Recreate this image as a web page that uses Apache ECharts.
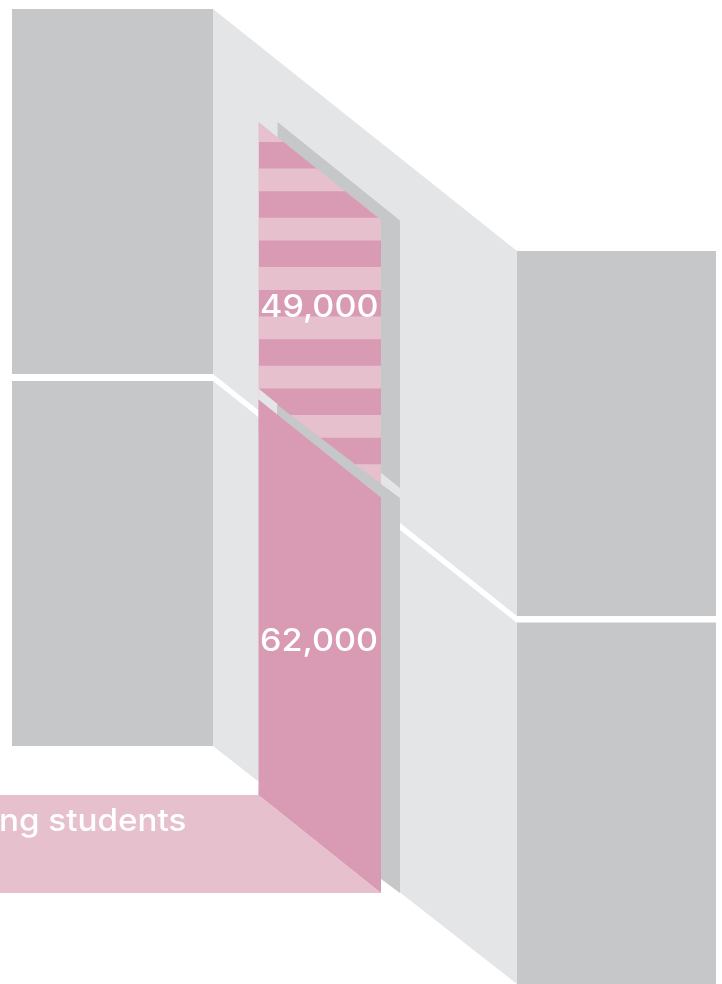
<!DOCTYPE html>
<html>
<head>
<meta charset="utf-8">
<style>
html, body {margin: 0; padding: 0; background: #fff;}
#chart {width: 722px; height: 984px;}
</style>
<script src="https://cdn.jsdelivr.net/npm/echarts@6/dist/echarts.min.js"></script>
</head>
<body>
<div id="chart"></div>
<script>
// students
var barValues = [62000, 49000];
var barLabels = ['62,000', '49,000'];
var barBases = [0, 56500]; // upper bar starts behind the top of the lower one
var floorLabel = 'ng students';

var GRAY = '#c6c7c9', WALL = '#e4e5e7', PINK = '#d99bb3', PALE = '#e7c0ce';
var SLOPE = 0.8;
var BAR_L = 258.5, BAR_R = 381, SIDE_R = 400, BACK_L = 277.5;
var FLOOR_PX = 795, PX_PER_STUDENT = 395.5 / 62000;

// scenery, in page pixels (drawn through the hidden px axes)
var scenery = [
    {fill: WALL, pts: [[213, 9], [517, 251], [517, 616], [213, 374]]},
    {fill: WALL, pts: [[213, 381], [517, 623], [517, 984], [213, 746]]},
    {fill: GRAY, pts: [[12, 9], [213, 9], [213, 374], [12, 374]]},
    {fill: GRAY, pts: [[12, 381], [213, 381], [213, 746], [12, 746]]},
    {fill: GRAY, pts: [[517, 251], [716, 251], [716, 616], [517, 616]]},
    {fill: GRAY, pts: [[517, 622.5], [716, 622.5], [716, 984], [517, 984]]},
    {fill: PALE, pts: [[0, 795], [258.5, 795], [381, 893], [0, 893]]}
];
var upperShadow = [[BACK_L, 122], [SIDE_R, 220.5], [SIDE_R, 488], [BACK_L, 390]];
var lowerShadow = [[BACK_L, 405], [381, 484], [SIDE_R, 498], [SIDE_R, 893], [381, 879], [258.5, 795]];
var gapStrip = [[258.5, 388.5], [BACK_L, 404], [BACK_L, 416], [258.5, 400]];

function poly(api, pts, fill) {
    return {
        type: 'polygon',
        shape: {points: pts.map(function (p) { return api.coord(p); })},
        style: {fill: fill}
    };
}

// keep the part of a polygon under a diagonal line y = y0 + SLOPE * (x - BAR_L)
function clipBelow(pts, y0) {
    var out = [];
    function d(p) { return p[1] - (y0 + SLOPE * (p[0] - BAR_L)); }
    for (var i = 0; i < pts.length; i++) {
        var a = pts[i], b = pts[(i + 1) % pts.length];
        var da = d(a), db = d(b);
        if (da >= 0) out.push(a);
        if (da * db < 0) {
            var t = da / (da - db);
            out.push([a[0] + (b[0] - a[0]) * t, a[1] + (b[1] - a[1]) * t]);
        }
    }
    return out;
}

// Inter stretched a little, the original face is wider
function label(text, x, y, stretch) {
    return {
        type: 'text', z: 100, x: x, y: y, scaleX: stretch,
        style: {text: text, fill: '#fff', font: '500 31px Inter', textVerticalAlign: 'middle'}
    };
}

var option = {
    animation: false,
    backgroundColor: '#fff',
    grid: {left: 0, right: 0, top: 0, bottom: 0},
    xAxis: {type: 'value', min: 0, max: 722, show: false},
    yAxis: [
        {type: 'value', min: 0, max: 984, inverse: true, show: false},
        // students above the floor line, measured on the bar's left edge
        {type: 'value', min: (FLOOR_PX - 984) / PX_PER_STUDENT, max: FLOOR_PX / PX_PER_STUDENT, show: false}
    ],
    series: [
        {
            type: 'custom',
            silent: true,
            clip: false,
            yAxisIndex: 0,
            data: scenery.map(function (s, i) { return [i]; }),
            renderItem: function (params, api) {
                return poly(api, scenery[params.dataIndex].pts, scenery[params.dataIndex].fill);
            }
        },
        {
            // upper striped bar, lower solid bar
            type: 'custom',
            silent: true,
            clip: false,
            yAxisIndex: 1,
            data: [1, 0].map(function (i) { return [i, barBases[i], barBases[i] + barValues[i]]; }),
            renderItem: function (params, api) {
                var i = api.value(0);
                var top = api.coord([BAR_L, api.value(2)])[1];
                var bottom = api.coord([BAR_L, api.value(1)])[1];
                var dy = SLOPE * (BAR_R - BAR_L);
                var kids = [];
                if (i === 1) {
                    // shadow, pale body and dark stripes
                    kids.push({type: 'polygon', shape: {points: upperShadow}, style: {fill: GRAY}});
                    kids.push({type: 'polygon', shape: {points: [[BAR_L, top], [BAR_R, top + dy], [BAR_R, bottom + dy], [BAR_L, bottom]]}, style: {fill: PALE}});
                    for (var s = 0; s < 8; s++) {
                        var y1 = 142 + s * 49.3, y2 = y1 + 26.5;
                        var band = clipBelow([[BAR_L + 0.5, y1], [BAR_R, y1], [BAR_R, y2], [BAR_L + 0.5, y2]], top);
                        if (band.length > 2) kids.push({type: 'polygon', shape: {points: band}, style: {fill: PINK}});
                    }
                } else {
                    kids.push({type: 'polygon', shape: {points: gapStrip}, style: {fill: WALL}});
                    kids.push({type: 'polygon', shape: {points: lowerShadow}, style: {fill: GRAY}});
                    kids.push({type: 'polygon', shape: {points: [[BAR_L, top], [BAR_R, top + dy], [BAR_R, bottom + dy], [BAR_L, bottom]]}, style: {fill: PINK}});
                }
                return {type: 'group', children: kids};
            }
        }
    ],
    graphic: [
        label(barLabels[1], 260, 308, 1.1),
        label(barLabels[0], 260, 642, 1.1),
        label(floorLabel, -1, 822, 1.07)
    ]
};

var chart = echarts.init(document.getElementById('chart'), null, {renderer: 'canvas'});
chart.setOption(option);
</script>
</body>
</html>
